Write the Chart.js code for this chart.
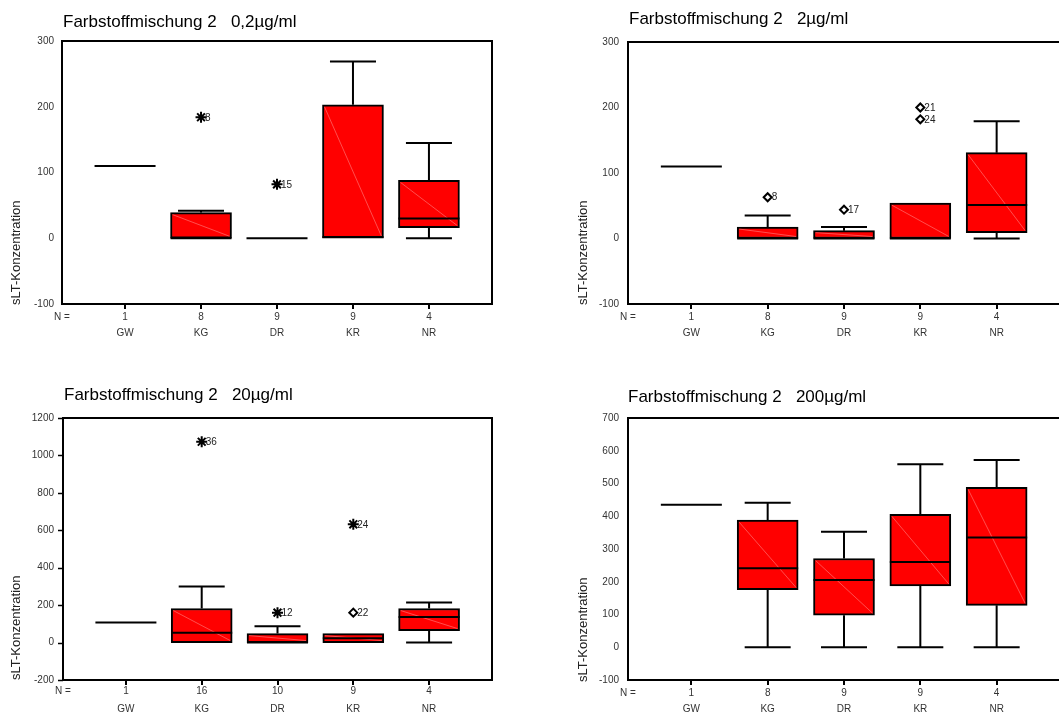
<!DOCTYPE html>
<html>
<head>
<meta charset="utf-8">
<script src="https://cdn.jsdelivr.net/npm/chart.js@4.4.1/dist/chart.umd.min.js"></script>
<style>
  html, body { margin: 0; padding: 0; background: #fff; overflow: hidden; width: 1059px; height: 713px; }
  .panel { position: absolute; }
</style>
</head>
<body>
<div class="panel" id="p0"><canvas id="c0"></canvas></div>
<div class="panel" id="p1"><canvas id="c1"></canvas></div>
<div class="panel" id="p2"><canvas id="c2"></canvas></div>
<div class="panel" id="p3"><canvas id="c3"></canvas></div>
<script>
// ---------------- DATA ----------------
const categories = ['GW', 'KG', 'DR', 'KR', 'NR'];
const titles = [
  'Farbstoffmischung 2   0,2µg/ml',
  'Farbstoffmischung 2   2µg/ml',
  'Farbstoffmischung 2   20µg/ml',
  'Farbstoffmischung 2   200µg/ml'
];
const yAxisTitle = 'sLT-Konzentration';
const nLabel = 'N =';

// Panel 1: 0,2 µg/ml
const n1 = [1, 8, 9, 9, 4];
const low1 = [110, 0, 0, 0, 0];
const q1a = [110, 0, 0, 0, 16];
const med1 = [110, 0, 0, 2, 30];
const q3a = [110, 39, 0, 203, 88];
const high1 = [110, 42, 0, 269, 145];
const out1 = [
  { cat: 1, value: 184, label: '8', kind: 'extreme' },
  { cat: 2, value: 82, label: '15', kind: 'extreme' }
];
const yTicks1 = [-100, 0, 100, 200, 300];

// Panel 2: 2 µg/ml
const n2 = [1, 8, 9, 9, 4];
const low2 = [110, 0, 0, 0, 0];
const q1b = [110, 0, 0, 0, 9];
const med2 = [110, 0, 0, 0, 51];
const q3b = [110, 17.5, 12, 54, 131];
const high2 = [110, 35, 17.5, 54, 179];
const out2 = [
  { cat: 1, value: 63, label: '8', kind: 'outlier' },
  { cat: 2, value: 44, label: '17', kind: 'outlier' },
  { cat: 3, value: 200, label: '21', kind: 'outlier' },
  { cat: 3, value: 182, label: '24', kind: 'outlier' }
];
const yTicks2 = [-100, 0, 100, 200, 300];

// Panel 3: 20 µg/ml
const n3 = [1, 16, 10, 9, 4];
const low3 = [107, 0, 0, 0, 0];
const q1c = [107, 0, 0, 0, 64];
const med3 = [107, 52, 0, 23, 137];
const q3c = [107, 182, 48, 48, 182];
const high3 = [107, 300, 87, 48, 214];
const out3 = [
  { cat: 1, value: 1073, label: '36', kind: 'extreme' },
  { cat: 2, value: 160, label: '12', kind: 'extreme' },
  { cat: 3, value: 632, label: '24', kind: 'extreme' },
  { cat: 3, value: 160, label: '22', kind: 'outlier' }
];
const yTicks3 = [-200, 0, 200, 400, 600, 800, 1000, 1200];

// Panel 4: 200 µg/ml
const n4 = [1, 8, 9, 9, 4];
const low4 = [435, 0, 0, 0, 0];
const q1d = [435, 176, 98, 187, 128];
const med4 = [435, 241, 205, 260, 335];
const q3d = [435, 388, 271, 406, 488];
const high4 = [435, 441, 353, 559, 572];
const out4 = [];
const yTicks4 = [-100, 0, 100, 200, 300, 400, 500, 600, 700];

// ---------------- LAYOUT / STYLE ----------------
const layouts = [
  { left: 0,   top: 0,   w: 530, h: 360, a: { l: 62, t: 41, r: 492, b: 304 }, titleX: 63, titleBase: 27, yTitleX: 16, yTitleBottom: 305, xPad: 0, lineH: 16, yMarks: false, yPad: 8 },
  { left: 530, top: 0,   w: 545, h: 360, a: { l: 98, t: 42, r: 530, b: 304 }, titleX: 99, titleBase: 24, yTitleX: 53, yTitleBottom: 305, xPad: 0, lineH: 16, yMarks: false, yPad: 9 },
  { left: 0,   top: 370, w: 530, h: 343, a: { l: 63, t: 48, r: 492, b: 310 }, titleX: 64, titleBase: 30, yTitleX: 16, yTitleBottom: 310, xPad: -3, lineH: 18, yMarks: true, yPad: 9 },
  { left: 530, top: 370, w: 545, h: 343, a: { l: 98, t: 48, r: 530, b: 310 }, titleX: 98, titleBase: 32, yTitleX: 53, yTitleBottom: 312, xPad: 0, lineH: 16, yMarks: false, yPad: 9 }
];
const BOX_W = 61, CAP_W = 46;
const FONT = '"Liberation Sans", Arial, sans-serif';
const styleFor = { extreme: 'star', outlier: 'rectRot' };
const radiusFor = { extreme: 5.5, outlier: 4 };

const panels = [
  { n: n1, low: low1, q1: q1a, med: med1, q3: q3a, high: high1, out: out1, yTicks: yTicks1 },
  { n: n2, low: low2, q1: q1b, med: med2, q3: q3b, high: high2, out: out2, yTicks: yTicks2 },
  { n: n3, low: low3, q1: q1c, med: med3, q3: q3c, high: high3, out: out3, yTicks: yTicks3 },
  { n: n4, low: low4, q1: q1d, med: med4, q3: q3d, high: high4, out: out4, yTicks: yTicks4 }
];

Chart.defaults.font.family = FONT;
Chart.defaults.color = '#333';

const boxPlugin = {
  id: 'boxExtras',
  afterDatasetsDraw(chart) {
    const o = chart.options.plugins.boxExtras;
    const d = o.data, L = o.layout;
    const { ctx, chartArea: a } = chart;
    const x = chart.scales.x, y = chart.scales.y;
    ctx.save();
    for (let i = 0; i < categories.length; i++) {
      const cx = x.getPixelForValue(i);
      const hb = BOX_W / 2, hc = CAP_W / 2;
      const y1 = y.getPixelForValue(d.q1[i]);
      const y3 = y.getPixelForValue(d.q3[i]);
      const ym = y.getPixelForValue(d.med[i]);
      const yl = y.getPixelForValue(d.low[i]);
      const yh = y.getPixelForValue(d.high[i]);
      if (y1 - y3 > 5) {
        ctx.beginPath();
        ctx.strokeStyle = 'rgba(255,160,160,0.7)';
        ctx.lineWidth = 0.7;
        ctx.moveTo(cx - hb + 2, y3 + 2);
        ctx.lineTo(cx + hb - 2, y1 - 2);
        ctx.stroke();
      }
      ctx.strokeStyle = '#000';
      ctx.lineWidth = 2;
      ctx.beginPath();
      ctx.moveTo(cx - hb, ym); ctx.lineTo(cx + hb, ym);
      if (d.high[i] > d.q3[i]) {
        ctx.moveTo(cx, y3); ctx.lineTo(cx, yh);
        ctx.moveTo(cx - hc, yh); ctx.lineTo(cx + hc, yh);
      }
      if (d.low[i] < d.q1[i]) {
        ctx.moveTo(cx, y1); ctx.lineTo(cx, yl);
        ctx.moveTo(cx - hc, yl); ctx.lineTo(cx + hc, yl);
      }
      ctx.stroke();
    }
    ctx.fillStyle = '#222';
    ctx.font = '10px ' + FONT;
    ctx.textAlign = 'left';
    ctx.textBaseline = 'middle';
    d.out.forEach(p => {
      ctx.fillText(p.label, x.getPixelForValue(p.cat) + 4, y.getPixelForValue(p.value) + 0.5);
    });
    if (L.yMarks) {
      ctx.strokeStyle = '#000';
      ctx.lineWidth = 1.5;
      ctx.beginPath();
      d.yTicks.forEach(v => {
        const py = Math.round(y.getPixelForValue(v)) + 0.5;
        ctx.moveTo(a.left - 5, py); ctx.lineTo(a.left, py);
      });
      ctx.stroke();
    }
    ctx.strokeStyle = '#000';
    ctx.lineWidth = 2;
    ctx.strokeRect(a.left, a.top, a.right - a.left, a.bottom - a.top);
    ctx.restore();
  },
  afterDraw(chart) {
    const o = chart.options.plugins.boxExtras;
    const L = o.layout;
    const { ctx, chartArea: a } = chart;
    ctx.save();
    ctx.fillStyle = '#000';
    ctx.font = '17px ' + FONT;
    ctx.textAlign = 'left';
    ctx.textBaseline = 'alphabetic';
    ctx.fillText(o.title, L.titleX, L.titleBase);
    ctx.fillStyle = '#222';
    ctx.font = '13px ' + FONT;
    ctx.translate(L.yTitleX, L.yTitleBottom);
    ctx.rotate(-Math.PI / 2);
    ctx.textBaseline = 'middle';
    ctx.fillText(yAxisTitle, 0, 0);
    ctx.restore();
    ctx.save();
    ctx.fillStyle = '#333';
    ctx.font = '10px ' + FONT;
    ctx.textAlign = 'center';
    ctx.textBaseline = 'middle';
    ctx.fillText(nLabel, a.left, a.bottom + 5 + L.xPad + L.lineH / 2);
    ctx.restore();
  }
};

panels.forEach((d, k) => {
  const L = layouts[k];
  const div = document.getElementById('p' + k);
  div.style.left = L.left + 'px';
  div.style.top = L.top + 'px';
  div.style.width = L.w + 'px';
  div.style.height = L.h + 'px';
  const cv = document.getElementById('c' + k);
  cv.width = L.w; cv.height = L.h;
  cv.style.width = L.w + 'px'; cv.style.height = L.h + 'px';

  const boxData = categories.map((c, i) => ({ x: i, y: [d.q1[i], d.q3[i]] }));
  const outData = d.out.map(p => ({ x: p.cat, y: p.value }));

  new Chart(cv, {
    type: 'bar',
    data: {
      datasets: [
        {
          type: 'bar',
          data: boxData,
          backgroundColor: '#ff0000',
          borderColor: '#000',
          borderWidth: 2,
          borderSkipped: false,
          barThickness: BOX_W
        },
        {
          type: 'scatter',
          data: outData,
          pointStyle: d.out.map(p => styleFor[p.kind]),
          radius: d.out.map(p => radiusFor[p.kind]),
          borderColor: '#000',
          backgroundColor: '#fff',
          borderWidth: 2
        }
      ]
    },
    options: {
      responsive: false,
      animation: false,
      devicePixelRatio: 1,
      events: [],
      layout: { padding: { left: 0, top: L.a.t, right: L.w - L.a.r, bottom: 0 } },
      plugins: {
        legend: { display: false },
        title: { display: false },
        tooltip: { enabled: false },
        boxExtras: { data: d, layout: L, title: titles[k] }
      },
      scales: {
        x: {
          type: 'linear',
          min: -0.83,
          max: 4.83,
          offset: false,
          afterBuildTicks: s => { s.ticks = categories.map((c, i) => ({ value: i })); },
          afterFit: s => { s.height = L.h - L.a.b; },
          grid: { display: true, offset: false, drawOnChartArea: false, drawTicks: true, tickLength: 5, color: '#000', lineWidth: 2 },
          border: { display: false },
          ticks: {
            autoSkip: false,
            maxRotation: 0,
            padding: L.xPad,
            color: '#333',
            font: { size: 10, lineHeight: L.lineH + 'px' },
            callback: (v) => {
              const i = Math.round(v);
              return [String(d.n[i]), categories[i]];
            }
          }
        },
        y: {
          type: 'linear',
          min: d.yTicks[0],
          max: d.yTicks[d.yTicks.length - 1],
          afterBuildTicks: s => { s.ticks = d.yTicks.map(v => ({ value: v })); },
          afterFit: s => { s.width = L.a.l; },
          grid: { display: false, drawTicks: false },
          border: { display: false },
          ticks: { padding: L.yPad, color: '#333', font: { size: 10 }, callback: v => String(v) }
        }
      }
    },
    plugins: [boxPlugin]
  });
});
</script>
</body>
</html>
